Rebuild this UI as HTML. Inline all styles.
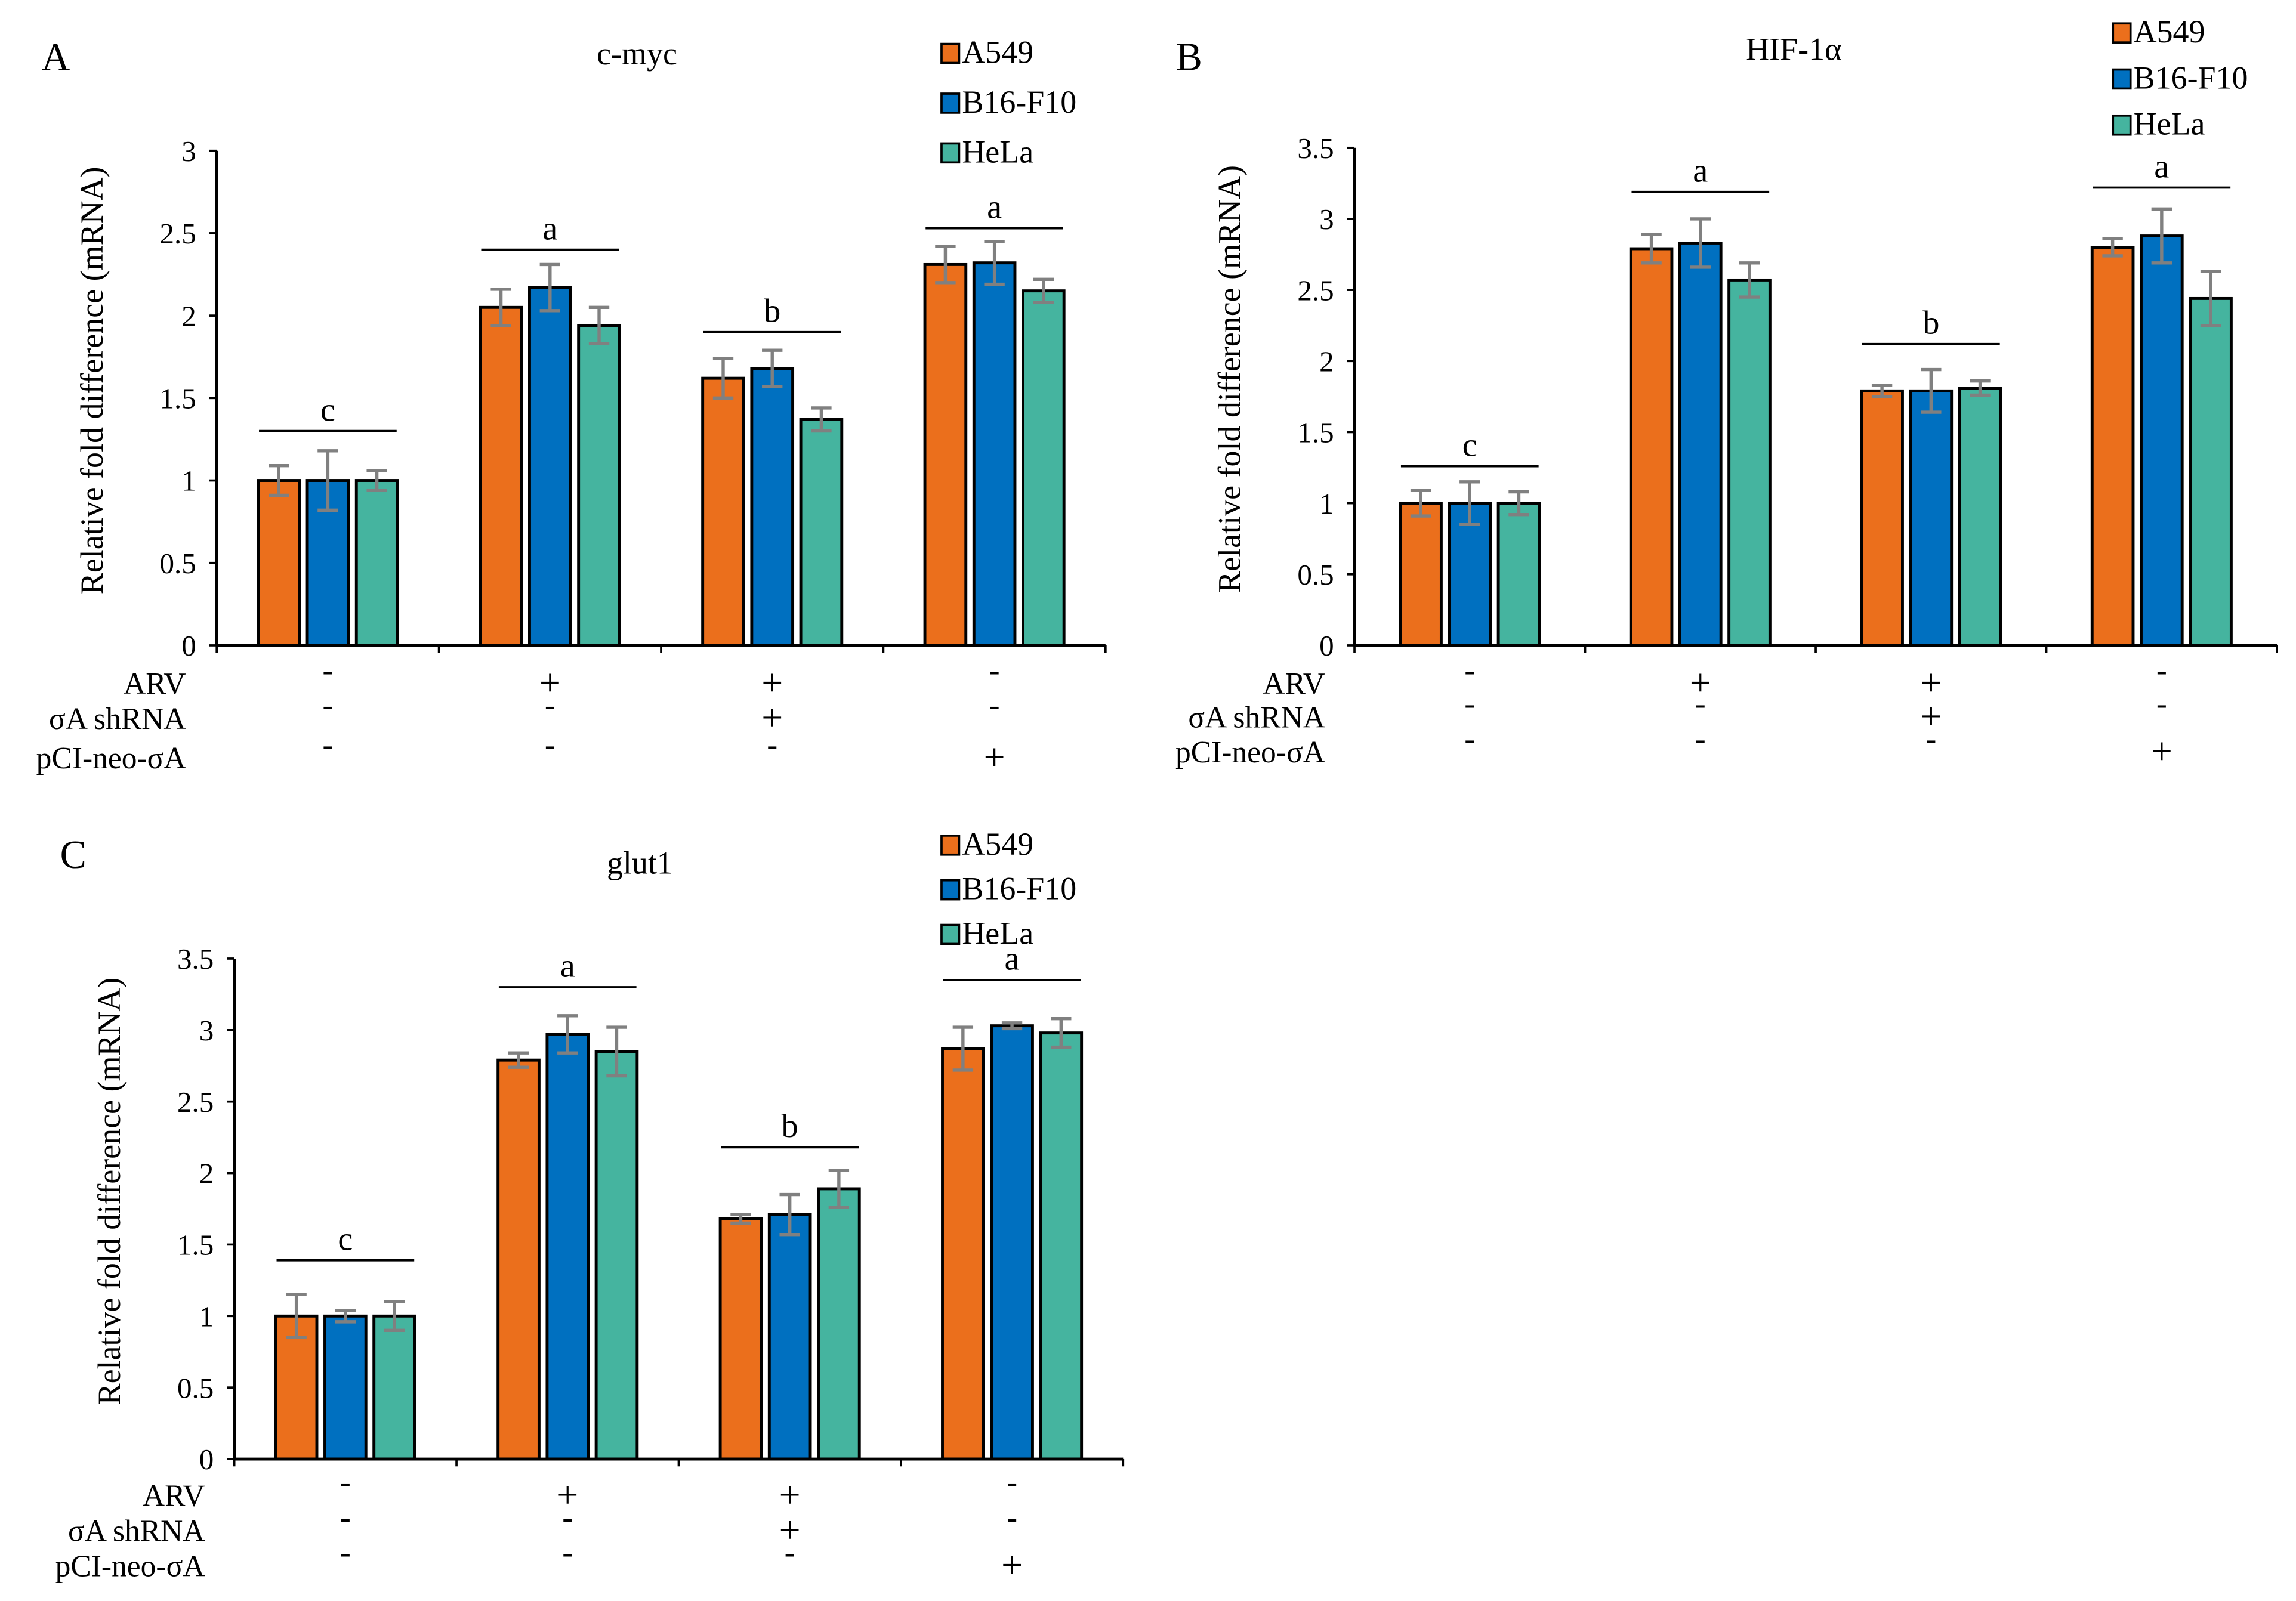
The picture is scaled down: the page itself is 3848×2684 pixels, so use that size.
<!DOCTYPE html>
<html><head><meta charset="utf-8"><style>
html,body{margin:0;padding:0;background:#fff}
svg{display:block}
text{font-family:"Liberation Serif",serif;fill:#000}
</style></head><body>
<svg id="fig" width="3848" height="2684" viewBox="0 0 1568 1094" preserveAspectRatio="none" xmlns="http://www.w3.org/2000/svg"></svg>
<script>
const series = ["A549","B16-F10","HeLa"];
const colors = ["#EB6F1C","#0070C0","#45B49F"];
const rowLabels = ["ARV","σA shRNA","pCI-neo-σA"];
const conds = [["-","-","-"],["+","-","-"],["+","+","-"],["-","-","+"]];
const cmycVals = [[1,1,1],[2.05,2.17,1.94],[1.62,1.68,1.37],[2.31,2.32,2.15]];
const cmycErr = [[0.09,0.18,0.06],[0.11,0.14,0.11],[0.12,0.11,0.07],[0.11,0.13,0.07]];
const cmycSig = ["c","a","b","a"];
const cmycSigY = [1.3,2.4,1.9,2.53];
const cmycTicks = [0,0.5,1,1.5,2,2.5,3];
const hifVals = [[1,1,1],[2.79,2.83,2.57],[1.79,1.79,1.81],[2.8,2.88,2.44]];
const hifErr = [[0.09,0.15,0.08],[0.1,0.17,0.12],[0.04,0.15,0.05],[0.06,0.19,0.19]];
const hifSig = ["c","a","b","a"];
const hifSigY = [1.26,3.19,2.12,3.22];
const hifTicks = [0,0.5,1,1.5,2,2.5,3,3.5];
const glutVals = [[1,1,1],[2.79,2.97,2.85],[1.68,1.71,1.89],[2.87,3.03,2.98]];
const glutErr = [[0.15,0.04,0.1],[0.05,0.13,0.17],[0.03,0.14,0.13],[0.15,0.02,0.1]];
const glutSig = ["c","a","b","a"];
const glutSigY = [1.39,3.3,2.18,3.35];
const glutTicks = [0,0.5,1,1.5,2,2.5,3,3.5];

const NS="http://www.w3.org/2000/svg";
const svg=document.getElementById('fig');
function mk(tag,attrs,parent,txt){const e=document.createElementNS(NS,tag);for(const k in attrs)e.setAttribute(k,attrs[k]);if(txt!==undefined)e.textContent=txt;(parent||svg).appendChild(e);return e;}

function panel(p){
  const g=mk('g',{});
  
  
  const ymax=p.ticks[p.ticks.length-1];
  const ys=v=>p.y0-(v/ymax)*(p.y0-p.ytop);
  const gw=(p.xend-p.x0)/4;
  const bw=28,gap=5.5;
  const t=mk('text',{x:p.letter[1],y:p.letter[2],'font-size':27,'text-anchor':'middle'},g,p.letter[0]);
  
  const ti=mk('text',{x:p.title[1],y:p.title[2],'font-size':22,'text-anchor':'middle'},g,p.title[0]);
  
  series.forEach((s,i)=>{
    const ly=p.leg[1]+i*p.leg[2];
    const r=mk('rect',{x:p.leg[0],y:ly-13,width:12,height:13,fill:colors[i],stroke:'#000','stroke-width':1.5},g);
    
    const lt=mk('text',{x:p.leg[0]+14,y:ly,'font-size':22},g,s);
    
  });
  const ya=mk('line',{x1:p.x0,y1:p.ytop,x2:p.x0,y2:p.y0,stroke:'#000','stroke-width':2},g);
  
  p.ticks.forEach(v=>{
    mk('line',{x1:p.x0-5,x2:p.x0,y1:ys(v),y2:ys(v),stroke:'#000','stroke-width':1.5},g);
    const tl=mk('text',{x:p.x0-14,y:ys(v)+7,'font-size':20,'text-anchor':'end'},g,String(v));
    
  });
  const yt=mk('text',{x:0,y:0,'font-size':22,'text-anchor':'middle',transform:`translate(${p.x0-78},${(p.ytop+p.y0)/2-12}) rotate(-90)`},g,'Relative fold difference (mRNA)');
  
  p.vals.forEach((grp,gi)=>{
    const cx=p.x0+gw*(gi+0.5);
    grp.forEach((v,si)=>{
      const x=cx+(si-1)*(bw+gap)-bw/2;
      const b=mk('rect',{x:x,y:ys(v),width:bw,height:p.y0-ys(v),fill:colors[si],stroke:'#000','stroke-width':2},g);
      
      const e=p.err[gi][si],bx=x+bw/2;
      const eb=mk('path',{d:`M${bx},${ys(v+e)}V${ys(v-e)}M${bx-7},${ys(v+e)}H${bx+7}M${bx-7},${ys(v-e)}H${bx+7}`,stroke:'#808080','stroke-width':2.2,fill:'none'},g);
      
    });
    const sy=ys(p.sigY[gi]);
    const sl=mk('line',{x1:cx-47,x2:cx+47,y1:sy,y2:sy,stroke:'#000','stroke-width':1.5},g);
    
    const st=mk('text',{x:cx,y:sy-7,'font-size':23,'text-anchor':'middle'},g,p.sig[gi]);
    
    conds[gi].forEach((c,ri)=>{
      const ct=mk('text',{x:cx,y:p.rows[ri]+(c==='-'?-2:8),'font-size':c==='-'?22:26,'text-anchor':'middle'},g,c);
      
    });
  });
  const xa=mk('line',{x1:p.x0,y1:p.y0,x2:p.xend,y2:p.y0,stroke:'#000','stroke-width':2},g);
  
  for(let i=0;i<=4;i++){const x=p.x0+gw*i;mk('line',{x1:x,x2:x,y1:p.y0,y2:p.y0+5,stroke:'#000','stroke-width':1.5},g);}
  rowLabels.forEach((r,ri)=>{
    const rt=mk('text',{x:p.rowX,y:p.rows[ri]+7,'font-size':21,'text-anchor':'end'},g,r);
    
  });
}
panel({id:'c-myc',x0:148,xend:755,ytop:103,y0:441,ticks:cmycTicks,vals:cmycVals,err:cmycErr,sig:cmycSig,sigY:cmycSigY,
  letter:['A',38,48],title:['c-myc',435,44],leg:[643,43,34],rows:[467,491,518],rowX:127});
panel({id:'hif',x0:925,xend:1555,ytop:101,y0:441,ticks:hifTicks,vals:hifVals,err:hifErr,sig:hifSig,sigY:hifSigY,
  letter:['B',812,48],title:['HIF-1α',1225,41],leg:[1443,29,31.5],rows:[467,490,514],rowX:905});
panel({id:'glut1',x0:160,xend:767,ytop:655,y0:997,ticks:glutTicks,vals:glutVals,err:glutErr,sig:glutSig,sigY:glutSigY,
  letter:['C',50,593],title:['glut1',437,597],leg:[643,584,30.5],rows:[1022,1046,1070],rowX:140});
</script>
</body></html>
